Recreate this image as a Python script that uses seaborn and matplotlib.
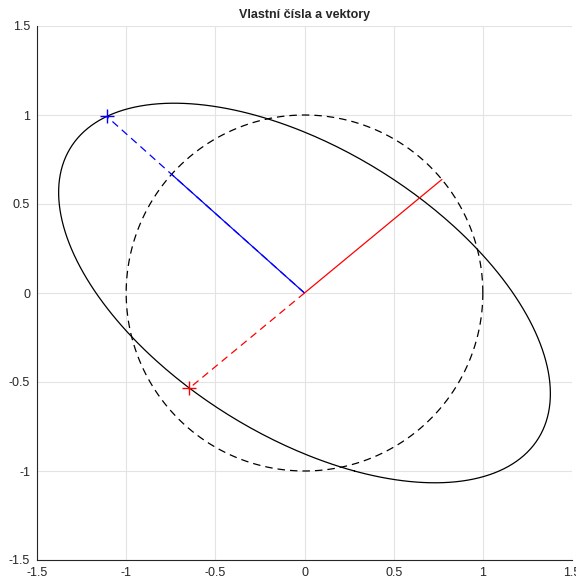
import numpy as np
import pandas as pd
import matplotlib
matplotlib.use("Agg")
import matplotlib.pyplot as plt
import seaborn as sns

# 2x2 transform whose eigenvalues / eigenvectors are shown
A = np.array([[0.28, -1.35],
              [-1.00, 0.37]])

# Axis ticks
ticks = [-1.5, -1, -0.5, 0, 0.5, 1, 1.5]
tick_labels = ["-1.5", "-1", "-0.5", "0", "0.5", "1", "1.5"]

sns.set_style("white")
plt.rcParams["font.family"] = ["Liberation Sans", "DejaVu Sans"]
plt.rcParams["axes.unicode_minus"] = False

# Eigen-decomposition, largest eigenvalue first, vectors oriented upward
eigvals, eigvecs = np.linalg.eig(A)
order = np.argsort(eigvals)[::-1]
eigvals = eigvals[order]
eigvecs = eigvecs[:, order]
eigvecs = eigvecs * np.sign(eigvecs[1])

# Unit circle and its image under A
t = np.linspace(0, 2 * np.pi, 400)
circle = np.vstack([np.cos(t), np.sin(t)])
ellipse = A @ circle

circle_df = pd.DataFrame({"x": circle[0], "y": circle[1]})
ellipse_df = pd.DataFrame({"x": ellipse[0], "y": ellipse[1]})

fig = plt.figure(figsize=(5.76, 5.79), dpi=100)
ax = fig.add_axes([37 / 576, 19 / 579, 535 / 576, 534 / 579])

sns.lineplot(data=circle_df, x="x", y="y", sort=False, estimator=None, ax=ax,
             color="black", linewidth=0.9, linestyle=(0, (6, 4)))
sns.lineplot(data=ellipse_df, x="x", y="y", sort=False, estimator=None, ax=ax,
             color="black", linewidth=0.9)

for k, col in [(0, "blue"), (1, "red")]:
    vec = eigvecs[:, k]
    lam = eigvals[k]
    scaled = pd.DataFrame({"x": [0, lam * vec[0]], "y": [0, lam * vec[1]]})
    unit = pd.DataFrame({"x": [0, vec[0]], "y": [0, vec[1]]})
    sns.lineplot(data=scaled, x="x", y="y", sort=False, estimator=None, ax=ax,
                 color=col, linewidth=0.9, linestyle=(0, (6, 4)))
    sns.lineplot(data=unit, x="x", y="y", sort=False, estimator=None, ax=ax,
                 color=col, linewidth=0.9)
    sns.scatterplot(x=[lam * vec[0]], y=[lam * vec[1]], ax=ax, marker="+",
                    color=col, s=110, linewidth=1.0, zorder=5)

ax.set_xlim(-1.5, 1.5)
ax.set_ylim(-1.5, 1.5)
ax.set_xticks(ticks)
ax.set_yticks(ticks)
ax.set_xticklabels(tick_labels)
ax.set_yticklabels(tick_labels)
ax.set_xlabel("")
ax.set_ylabel("")
ax.grid(True, color="#e3e3e3", linewidth=0.8)
ax.set_axisbelow(True)
for side in ["top", "right"]:
    ax.spines[side].set_visible(False)
for side in ["left", "bottom"]:
    ax.spines[side].set_color("#262626")
    ax.spines[side].set_linewidth(0.8)
ax.tick_params(direction="in", length=4, width=0.8, color="#262626",
               labelsize=9, labelcolor="#262626")
ax.tick_params(axis="x", pad=5)
ax.tick_params(axis="y", pad=5)
ax.set_title("Vlastní čísla a vektory", fontsize=9, fontweight="bold", pad=6)

fig.savefig("out.png", dpi=100)
